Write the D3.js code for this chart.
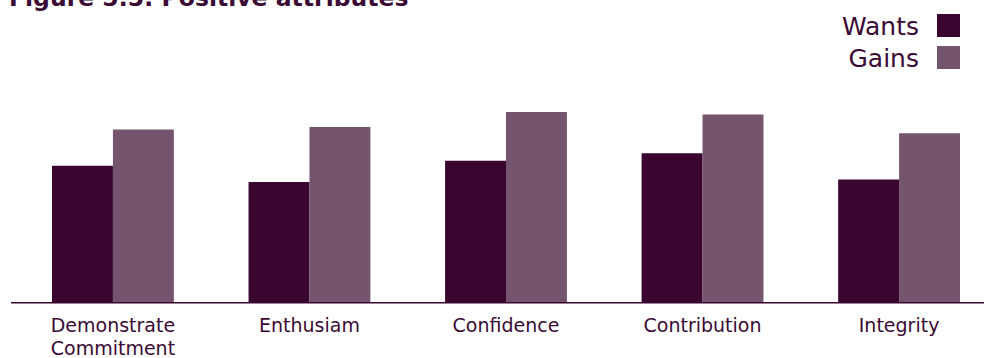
<!DOCTYPE html>
<html>
<head>
<meta charset="utf-8">
<script src="https://cdn.jsdelivr.net/npm/d3@7"></script>
<style>
  body { margin: 0; background: #fff; }
  svg text { font-family: "DejaVu Sans", sans-serif; fill: #3b0a35; }
</style>
</head>
<body>
<svg id="svgBars" width="984" height="358"></svg>
<script>
// chart data
const categories = [["Demonstrate", "Commitment"], ["Enthusiam"], ["Confidence"], ["Contribution"], ["Integrity"]];
const seriesNames = ["Wants", "Gains"];
const wants = [54.5, 48, 56.5, 59.5, 49];
const gains = [69, 70, 76, 75, 67.5];
const titleText = "Figure 5.5: Positive attributes";

const colors = ["#3a0630", "#75546d"];
const width = 984, height = 358;
const baseline = 302;

const svg = d3.select("#svgBars");

const x0 = d3.scaleBand()
    .domain(d3.range(categories.length))
    .range([52, 960])
    .paddingInner(0.38)
    .paddingOuter(0);
const x1 = d3.scaleBand()
    .domain(seriesNames)
    .range([0, x0.bandwidth()]);
const y = d3.scaleLinear().domain([0, 100]).range([baseline, 52]);

// title (cut by the top edge as in the original)
svg.append("text")
    .attr("x", 9)
    .attr("y", 6)
    .style("font-weight", "bold")
    .style("font-size", "23.5px")
    .text(titleText);

// bars
const rows = categories.map((c, i) => ({ i: i, Wants: wants[i], Gains: gains[i] }));
const groups = svg.append("g").selectAll("g")
    .data(rows)
    .enter().append("g")
    .attr("transform", d => "translate(" + x0(d.i) + ",0)");

groups.selectAll("rect")
    .data(d => seriesNames.map((s, k) => ({ key: s, value: d[s], k: k })))
    .enter().append("rect")
    .attr("x", d => x1(d.key))
    .attr("y", d => y(d.value))
    .attr("width", x1.bandwidth())
    .attr("height", d => y(0) - y(d.value))
    .attr("fill", d => colors[d.k]);

// baseline
svg.append("line")
    .attr("x1", 11).attr("x2", width)
    .attr("y1", y(0) + 0.75).attr("y2", y(0) + 0.75)
    .attr("stroke", "#3a0630")
    .attr("stroke-width", 1.5);

// category labels
const labels = svg.append("g").selectAll("text")
    .data(categories)
    .enter().append("text")
    .attr("x", (d, i) => x0(i) + x0.bandwidth() / 2)
    .attr("y", 332)
    .attr("text-anchor", "middle")
    .attr("font-size", "19px");
labels.selectAll("tspan")
    .data(d => d)
    .enter().append("tspan")
    .attr("x", function () { return d3.select(this.parentNode).attr("x"); })
    .attr("dy", (d, j) => j === 0 ? 0 : 23)
    .text(d => d);

// legend
const legend = svg.append("g").selectAll("g")
    .data(seriesNames)
    .enter().append("g")
    .attr("transform", (d, i) => "translate(0," + (i * 32) + ")");
legend.append("rect")
    .attr("x", 937).attr("y", 14)
    .attr("width", 23).attr("height", 23)
    .attr("fill", (d, i) => colors[i]);
legend.append("text")
    .attr("x", 919).attr("y", 35)
    .attr("text-anchor", "end")
    .attr("font-size", "25px")
    .text(d => d);
</script>
</body>
</html>
